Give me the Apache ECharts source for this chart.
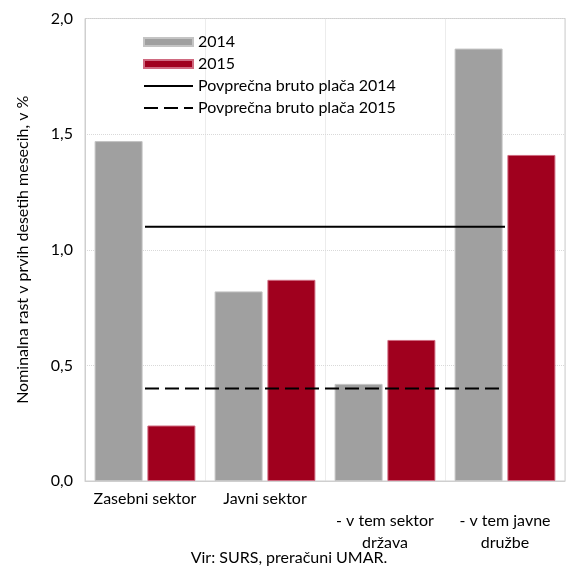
<!DOCTYPE html>
<html lang="sl">

<head>
    <meta charset="UTF-8">
    <title>Nominalna rast plač</title>
    <style>
        html, body { margin: 0; padding: 0; background: #fff; }
    </style>
</head>

<body>
    <div id="chart" style="width:568px; height:570px;"></div>
    <script src="https://cdn.jsdelivr.net/npm/echarts@6/dist/echarts.min.js"></script>
    <script>
        const categories = ['Zasebni sektor', 'Javni sektor', '- v tem sektor\ndržava', '- v tem javne\ndružbe']
        const growth2014 = [1.47, 0.82, 0.42, 1.87]
        const growth2015 = [0.24, 0.87, 0.61, 1.41]
        // povprečje za celotno gospodarstvo
        const avgWage2014 = [1.1, 1.1, 1.1, 1.1]
        const avgWage2015 = [0.4, 0.4, 0.4, 0.4]
        const yTicks = [0, 0.5, 1, 1.5, 2]

        const font = 'Lato'
        const fs = 16
        const myChart = echarts.init(document.getElementById('chart'))

        const option = {
            animation: false,
            textStyle: { fontFamily: font, color: '#000' },
            grid: { left: 85, right: 3, top: 18.5, bottom: 89, show: true, borderColor: '#cfcfcf', borderWidth: 1 },
            legend: {
                orient: 'vertical',
                left: 143,
                top: 33,
                padding: 0,
                itemWidth: 49,
                itemHeight: 8,
                itemGap: 4,
                selectedMode: false,
                textStyle: { fontFamily: font, fontSize: fs, color: '#000', lineHeight: 18 },
                data: [
                    { name: '2014', icon: 'rect' },
                    { name: '2015', icon: 'rect' },
                    { name: 'Povprečna bruto plača 2014', itemStyle: { opacity: 0 } },
                    { name: 'Povprečna bruto plača 2015', itemStyle: { opacity: 0 } }
                ]
            },
            xAxis: {
                type: 'category',
                data: categories,
                axisLine: { lineStyle: { color: '#cfcfcf' } },
                axisTick: { show: false },
                splitLine: { show: true, lineStyle: { color: '#d9d9d9', type: 'dotted' } },
                axisLabel: {
                    fontFamily: font,
                    fontSize: fs,
                    color: '#000',
                    lineHeight: 22,
                    margin: 7,
                    interval: 0,
                    // Excel zamakne zadnji dve oznaki v drugo vrstico
                    formatter: (v, i) => (i >= 2 ? '\n' + v : v)
                }
            },
            yAxis: {
                type: 'value',
                min: yTicks[0],
                max: yTicks[yTicks.length - 1],
                interval: 0.5,
                name: 'Nominalna rast v prvih desetih mesecih, v %',
                nameLocation: 'middle',
                nameGap: 54,
                nameTextStyle: { fontFamily: font, fontSize: fs, color: '#000' },
                axisLine: { show: true, lineStyle: { color: '#cfcfcf' } },
                axisTick: { show: false },
                splitLine: { show: true, lineStyle: { color: '#d9d9d9', type: 'dotted' } },
                axisLabel: {
                    fontFamily: font,
                    fontSize: fs,
                    color: '#000',
                    margin: 12,
                    formatter: v => v.toFixed(1).replace('.', ',')
                }
            },
            series: [{
                name: '2014',
                type: 'bar',
                data: growth2014,
                barWidth: 48,
                barGap: '10%',
                itemStyle: { color: '#a0a0a0', borderColor: '#c4c4c4', borderWidth: 1 }
            }, {
                name: '2015',
                type: 'bar',
                data: growth2015,
                barWidth: 48,
                itemStyle: { color: '#a0001e', borderColor: '#cf6a80', borderWidth: 1 }
            }, {
                name: 'Povprečna bruto plača 2014',
                type: 'line',
                data: avgWage2014,
                symbol: 'none',
                z: 5,
                itemStyle: { color: '#000' },
                lineStyle: { color: '#000', width: 2 }
            }, {
                name: 'Povprečna bruto plača 2015',
                type: 'line',
                data: avgWage2015,
                symbol: 'none',
                z: 5,
                itemStyle: { color: '#000' },
                lineStyle: { color: '#000', width: 2, type: [14, 6] }
            }],
            graphic: [{
                type: 'text',
                x: 289,
                y: 558,
                style: {
                    text: 'Vir: SURS, preračuni UMAR.',
                    fontFamily: font,
                    fontSize: fs,
                    fill: '#000',
                    align: 'center',
                    verticalAlign: 'middle'
                }
            }]
        }

        myChart.setOption(option)
    </script>
</body>

</html>
